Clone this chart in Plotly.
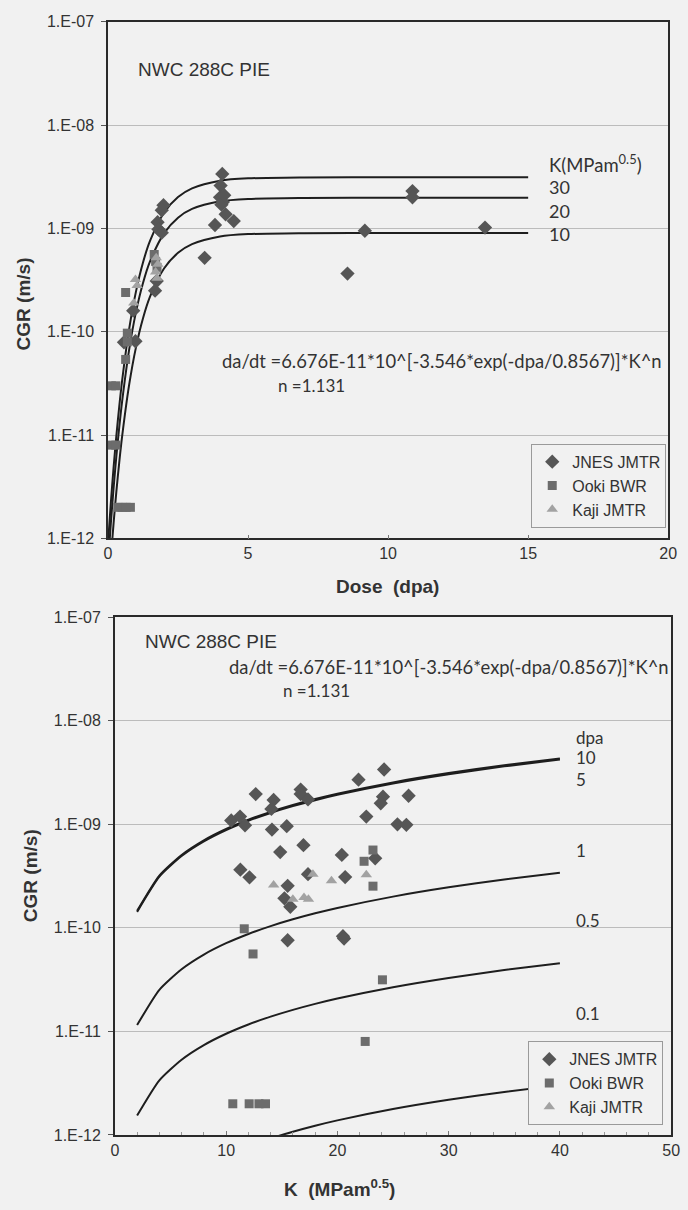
import plotly.graph_objects as go

# ---------------- data: top panel (CGR vs dose) ----------------
jnes_top_dpa = [4.08, 4.02, 4.0, 4.1, 4.05, 4.15, 4.2, 4.49, 3.82, 3.45, 1.98, 1.92, 1.77, 1.80, 1.92,
                1.74, 1.68, 0.90, 0.57, 0.98, 10.87, 10.87, 9.17, 13.46, 8.55]
jnes_top_cgr = [3.37e-9, 2.6e-9, 2.0e-9, 1.8e-9, 1.7e-9, 2.1e-9, 1.37e-9, 1.18e-9, 1.08e-9, 5.2e-10,
                1.68e-9, 1.5e-9, 1.15e-9, 9.8e-10, 9.1e-10, 3.1e-10, 2.5e-10, 1.6e-10, 7.9e-11, 8.1e-11,
                2.3e-9, 2.0e-9, 9.5e-10, 1.02e-9, 3.66e-10]
ooki_top_dpa = [1.65, 1.7, 1.75, 0.63, 0.69, 0.69, 0.63, 0.12, 0.28, 0.12, 0.28, 0.35, 0.5, 0.65, 0.8]
ooki_top_cgr = [5.6e-10, 4.8e-10, 4.2e-10, 2.4e-10, 9.7e-11, 8.0e-11, 5.4e-11, 3.0e-11, 3.0e-11,
                8.0e-12, 8.0e-12, 2e-12, 2e-12, 2e-12, 2e-12]
kaji_top_dpa = [0.98, 1.04, 0.92, 1.72, 1.78, 1.70, 1.75]
kaji_top_cgr = [3.2e-10, 2.8e-10, 1.9e-10, 5.2e-10, 4.5e-10, 3.8e-10, 3.3e-10]

curve_dpa = [0, 0.1, 0.2, 0.3, 0.4, 0.5, 0.75, 1, 1.25, 1.5, 2, 2.5, 3, 4, 5, 7, 10, 15]
curve_k30 = [8.89e-13, 2.187e-12, 4.869e-12, 9.928e-12, 1.870e-11, 3.288e-11, 1.0416e-10, 2.4634e-10,
             4.688e-10, 7.574e-10, 1.418e-9, 2.0119e-9, 2.4443e-9, 2.8965e-9, 3.0533e-9, 3.1198e-9,
             3.127e-9, 3.127e-9]
curve_k20 = [5.62e-13, 1.383e-12, 3.078e-12, 6.277e-12, 1.182e-11, 2.079e-11, 6.585e-11, 1.5574e-10,
             2.964e-10, 4.789e-10, 8.965e-10, 1.2719e-9, 1.5453e-9, 1.8311e-9, 1.9303e-9, 1.9723e-9,
             1.9769e-9, 1.9769e-9]
curve_k10 = [2.567e-13, 6.314e-13, 1.4054e-12, 2.866e-12, 5.398e-12, 9.491e-12, 3.007e-11, 7.111e-11,
             1.3533e-10, 2.1864e-10, 4.0932e-10, 5.8075e-10, 7.0557e-10, 8.361e-10, 8.814e-10,
             9.0055e-10, 9.026e-10, 9.026e-10]
top_curve_labels = ["30", "20", "10"]

# ---------------- data: bottom panel (CGR vs K) ----------------
jnes_bot_k = [10.46, 11.25, 11.7, 12.66, 14.27, 14.07, 14.12, 15.45, 16.7, 16.7, 17.36, 14.86, 16.95,
              21.9, 24.2, 24.1, 23.9, 22.6, 26.4, 25.4, 26.2, 11.28, 12.1, 15.53, 15.24, 15.77, 17.36,
              20.4, 20.7, 23.4, 15.53, 20.5, 20.6]
jnes_bot_cgr = [1.09e-9, 1.19e-9, 9.8e-10, 1.96e-9, 1.72e-9, 1.41e-9, 8.9e-10, 9.6e-10, 2.17e-9, 1.96e-9,
                1.74e-9, 5.4e-10, 6.3e-10, 2.7e-9, 3.39e-9, 1.85e-9, 1.6e-9, 1.19e-9, 1.89e-9, 1.0e-9,
                9.9e-10, 3.65e-10, 3.08e-10, 2.55e-10, 1.93e-10, 1.6e-10, 3.3e-10, 5.07e-10, 3.1e-10,
                4.7e-10, 7.6e-11, 8.3e-11, 7.9e-11]
ooki_bot_k = [23.2, 22.4, 23.2, 11.63, 12.42, 24.05, 22.5, 10.6, 12.07, 12.95, 13.54]
ooki_bot_cgr = [5.65e-10, 4.4e-10, 2.53e-10, 9.8e-11, 5.6e-11, 3.15e-11, 8.0e-12, 2e-12, 2e-12, 2e-12, 2e-12]
kaji_bot_k = [14.27, 16.0, 17.0, 17.4, 17.8, 19.47, 22.6]
kaji_bot_cgr = [2.6e-10, 1.89e-10, 1.97e-10, 1.89e-10, 3.3e-10, 2.86e-10, 3.27e-10]

curve_k = [2, 4, 6, 8, 10, 12, 14, 16, 18, 20, 25, 30, 35, 40]
curve_dpa10 = [1.4622e-10, 3.2024e-10, 5.0653e-10, 7.0131e-10, 9.0264e-10, 1.1094e-9, 1.3206e-9,
               1.5359e-9, 1.7548e-9, 1.9769e-9, 2.5444e-9, 3.1270e-9, 3.7227e-9, 4.3294e-9]
curve_dpa5 = [1.4278e-10, 3.1270e-10, 4.9460e-10, 6.8479e-10, 8.8138e-10, 1.0833e-9, 1.2895e-9,
              1.4997e-9, 1.7135e-9, 1.9303e-9, 2.4845e-9, 3.0534e-9, 3.6350e-9, 4.2274e-9]
curve_dpa1 = [1.1519e-11, 2.5228e-11, 3.9904e-11, 5.5249e-11, 7.1110e-11, 8.7399e-11, 1.0404e-10,
              1.2100e-10, 1.3824e-10, 1.5574e-10, 2.0045e-10, 2.4634e-10, 2.9327e-10, 3.4107e-10]
curve_dpa05 = [1.5375e-12, 3.3673e-12, 5.3262e-12, 7.3743e-12, 9.4913e-12, 1.1665e-11, 1.3886e-11,
               1.6150e-11, 1.8452e-11, 2.0787e-11, 2.6754e-11, 3.2880e-11, 3.9144e-11, 4.5524e-11]
curve_dpa01 = [1.0228e-13, 2.2401e-13, 3.5432e-13, 4.9057e-13, 6.3140e-13, 7.7603e-13, 9.2376e-13,
               1.0744e-12, 1.2275e-12, 1.3828e-12, 1.7798e-12, 2.1873e-12, 2.6040e-12, 3.0284e-12]
bot_curve_labels = ["dpa", "10", "5", "1", "0.5", "0.1"]

# ---------------- ticks ----------------
y_tickvals = [1e-12, 1e-11, 1e-10, 1e-9, 1e-8, 1e-7]
y_ticktext = ["1.E-12", "1.E-11", "1.E-10", "1.E-09", "1.E-08", "1.E-07"]
x1_tickvals = [0, 5, 10, 15, 20]
x2_tickvals = [0, 10, 20, 30, 40, 50]

series_names = ["JNES JMTR", "Ooki BWR", "Kaji JMTR"]

# ---------------- styles ----------------
W, H = 688, 1210
BG = "#f1f1f1"
C_DIA = "#565656"
C_SQ = "#6c6c6c"
C_TRI = "#a2a2a2"
LINE_C = "#1e1e1e"
TXT = "#333333"
SANS = "Liberation Sans, Arial, sans-serif"
CAL = "Lato, Carlito, Calibri, sans-serif"


def px(x):
    return x / W


def py(y):
    return 1 - y / H


fig = go.Figure()

# curves top
for vals in (curve_k30, curve_k20, curve_k10):
    fig.add_trace(go.Scatter(x=curve_dpa, y=vals, mode="lines", xaxis="x", yaxis="y",
                             line=dict(color=LINE_C, width=2, shape="spline", smoothing=0.8),
                             showlegend=False, hoverinfo="skip"))
# curves bottom
for vals in (curve_dpa10, curve_dpa5, curve_dpa1, curve_dpa05, curve_dpa01):
    fig.add_trace(go.Scatter(x=curve_k, y=vals, mode="lines", xaxis="x2", yaxis="y2",
                             line=dict(color=LINE_C, width=2, shape="spline", smoothing=0.6),
                             showlegend=False, hoverinfo="skip"))

marker_defs = [
    (dict(symbol="diamond", size=11, color=C_DIA), jnes_top_dpa, jnes_top_cgr, jnes_bot_k, jnes_bot_cgr),
    (dict(symbol="square", size=9, color=C_SQ), ooki_top_dpa, ooki_top_cgr, ooki_bot_k, ooki_bot_cgr),
    (dict(symbol="triangle-up", size=10, color=C_TRI), kaji_top_dpa, kaji_top_cgr, kaji_bot_k, kaji_bot_cgr),
]
for name, (mk, tx, ty, bx, by) in zip(series_names, marker_defs):
    fig.add_trace(go.Scatter(x=tx, y=ty, mode="markers", name=name, xaxis="x", yaxis="y",
                             marker=mk, legend="legend", cliponaxis=False))
for name, (mk, tx, ty, bx, by) in zip(series_names, marker_defs):
    fig.add_trace(go.Scatter(x=bx, y=by, mode="markers", name=name, xaxis="x2", yaxis="y2",
                             marker=mk, legend="legend2", cliponaxis=False))

axis_common = dict(showline=True, mirror=True, linecolor="#2a2a2a", linewidth=1.5,
                   tickfont=dict(family=SANS, size=16, color=TXT), zeroline=False)
yaxis_common = dict(axis_common, type="log", range=[-12, -7], tickvals=y_tickvals, ticktext=y_ticktext,
                    showgrid=True, gridcolor="#bcbcbc", gridwidth=1, ticks="outside", ticklen=5,
                    tickcolor="#555555", ticklabelstandoff=4)

legend_common = dict(bgcolor=BG, bordercolor="#9a9a9a", borderwidth=1,
                     font=dict(family=SANS, size=16, color=TXT), itemwidth=30,
                     tracegroupgap=0, xanchor="right", yanchor="top")

annotations = [
    # top panel
    dict(x=px(135), y=py(62), text="NWC 288C PIE", font=dict(family=SANS, size=19, color=TXT)),
    dict(x=px(220), y=py(358), text="da/dt =6.676E-11*10^[-3.546*exp(-dpa/0.8567)]*K^n",
         font=dict(family=CAL, size=18.4, color=TXT)),
    dict(x=px(277), y=py(383), text="n =1.131", font=dict(family=CAL, size=17, color=TXT)),
    dict(x=px(553), y=py(158), text="K(MPam<sup>0.5</sup>)", font=dict(family=CAL, size=18.5, color=TXT)),
    dict(x=px(20), y=py(300), text="<b>CGR (m/s)</b>", textangle=-90,
         font=dict(family=SANS, size=19, color=TXT), xanchor="center"),
    dict(x=px(391), y=py(587), text="<b>Dose  (dpa)</b>", font=dict(family=SANS, size=19, color=TXT),
         xanchor="center"),
    # bottom panel
    dict(x=px(142), y=py(643), text="NWC 288C PIE", font=dict(family=SANS, size=19, color=TXT)),
    dict(x=px(227), y=py(668), text="da/dt =6.676E-11*10^[-3.546*exp(-dpa/0.8567)]*K^n",
         font=dict(family=CAL, size=18.4, color=TXT)),
    dict(x=px(282), y=py(692), text="n =1.131", font=dict(family=CAL, size=17, color=TXT)),
    dict(x=px(27), y=py(880), text="<b>CGR (m/s)</b>", textangle=-90,
         font=dict(family=SANS, size=19, color=TXT), xanchor="center"),
    dict(x=px(342), y=py(1197), text="<b>K  (MPam<sup>0.5</sup>)</b>",
         font=dict(family=SANS, size=19, color=TXT), xanchor="center"),
]
for lab, yy in zip(top_curve_labels, [182, 206, 229]):
    annotations.append(dict(x=px(553), y=py(yy), text=lab, font=dict(family=CAL, size=18, color=TXT)))
for lab, yy in zip(bot_curve_labels, [740, 760, 783, 855, 926, 1020]):
    annotations.append(dict(x=px(581), y=py(yy), text=lab, font=dict(family=CAL, size=17, color=TXT)))
for a in annotations:
    a.setdefault("xanchor", "left")
    a["yanchor"] = "middle"
    a["xref"] = "paper"
    a["yref"] = "paper"
    a["showarrow"] = False

fig.update_layout(
    width=W, height=H, autosize=False,
    margin=dict(l=0, r=0, t=0, b=0),
    paper_bgcolor=BG, plot_bgcolor=BG,
    xaxis=dict(axis_common, domain=[px(106), px(677)], range=[0, 20], tickvals=x1_tickvals,
               showgrid=False, ticks="inside", ticklen=4, tickcolor="#777777", anchor="y"),
    yaxis=dict(yaxis_common, domain=[py(538), py(14)], anchor="x"),
    xaxis2=dict(axis_common, domain=[px(113), px(680)], range=[0, 50], tickvals=x2_tickvals,
                showgrid=False, ticks="inside", ticklen=4, tickcolor="#777777", anchor="y2",
                minor=dict(dtick=2, ticks="inside", ticklen=3, tickcolor="#999999")),
    yaxis2=dict(yaxis_common, domain=[py(1143), py(618)], anchor="x2"),
    legend=dict(legend_common, x=px(675), y=py(442)),
    legend2=dict(legend_common, x=px(672), y=py(1048)),
    annotations=annotations,
    showlegend=True,
)

fig.write_html("out.html")
